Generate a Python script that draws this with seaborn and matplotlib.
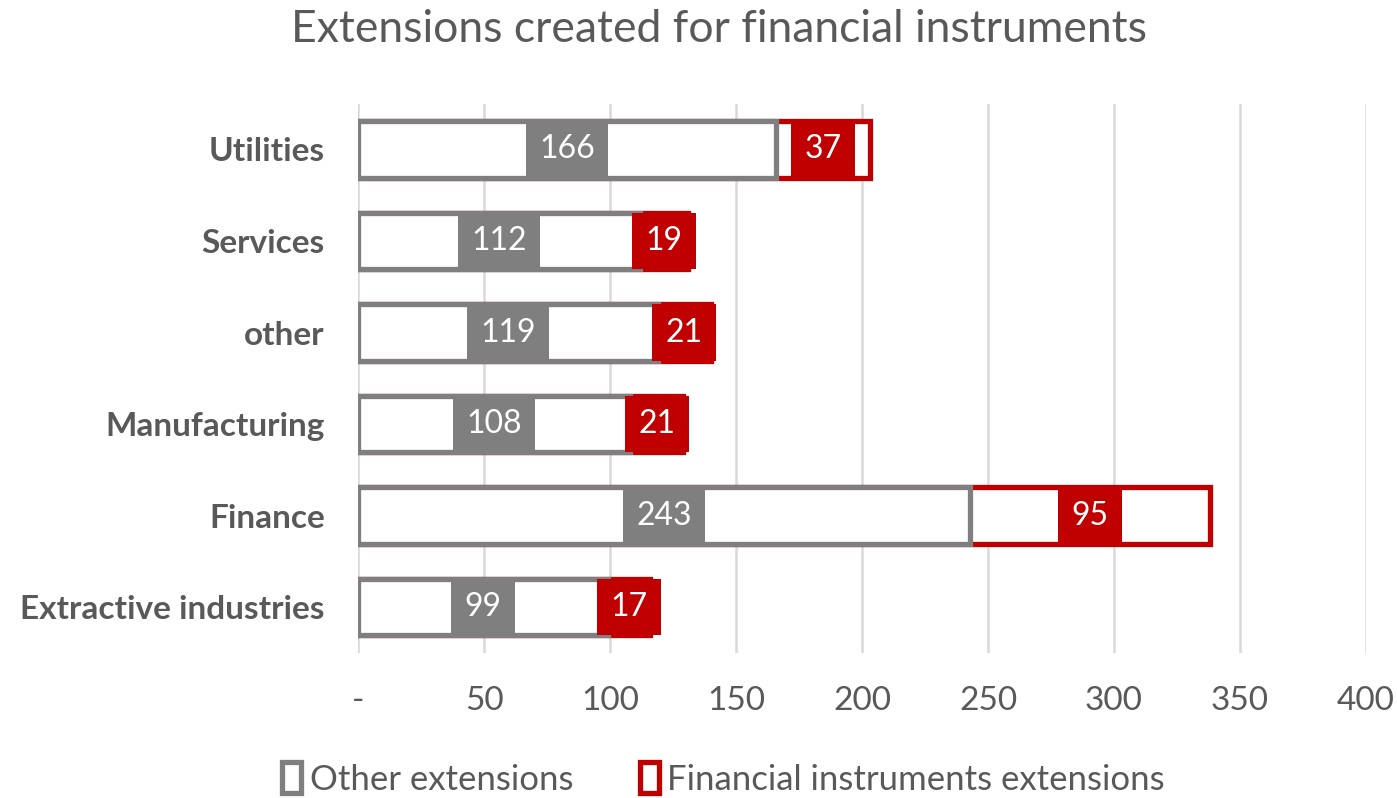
import matplotlib
matplotlib.use('Agg')
import matplotlib.pyplot as plt
import seaborn as sns
import pandas as pd
from matplotlib.patches import Patch

categories = ["Utilities", "Services", "other", "Manufacturing", "Finance", "Extractive industries"]
other_ext = [166, 112, 119, 108, 243, 99]
fin_ext = [37, 19, 21, 21, 95, 17]
tick_values = [0, 50, 100, 150, 200, 250, 300, 350, 400]
tick_labels = ["-", "50", "100", "150", "200", "250", "300", "350", "400"]
series_names = ["Other extensions", "Financial instruments extensions"]
title = "Extensions created for financial instruments"

GREY = "#7f7f7f"
RED = "#c00000"
TXT = "#595959"

sns.set_theme(style="white")
plt.rcParams['font.family'] = ['Lato', 'DejaVu Sans']

df = pd.DataFrame({"category": categories, "other": other_ext, "fin": fin_ext})
df["total"] = df["other"] + df["fin"]

fig = plt.figure(figsize=(13.97, 7.98), dpi=100)
ax = fig.add_axes([0.2563, 0.182, 0.7215, 0.688])

sns.barplot(data=df, y="category", x="total", orient="h", color="white", saturation=1,
            edgecolor=RED, linewidth=3.8, width=0.62, errorbar=None, ax=ax, zorder=2)
sns.barplot(data=df, y="category", x="other", orient="h", color="white", saturation=1,
            edgecolor=GREY, linewidth=3.8, width=0.62, errorbar=None, ax=ax, zorder=3)

FS = 23
for i, row in df.iterrows():
    ax.text(row["other"] / 2, i, str(row["other"]), ha="center", va="center", color="white",
            fontsize=FS, zorder=6,
            bbox=dict(boxstyle="square,pad=0.42", fc=GREY, ec="none"))
    ax.text(row["other"] + row["fin"] / 2, i, str(row["fin"]), ha="center", va="center", color="white",
            fontsize=FS, zorder=6,
            bbox=dict(boxstyle="square,pad=0.42", fc=RED, ec="none"))

ax.set_xlim(0, 400)
ax.set_xticks(tick_values)
ax.set_xticklabels(tick_labels)
ax.set_xlabel("")
ax.set_ylabel("")
ax.set_axisbelow(True)
ax.grid(axis="x", color="#d9d9d9", linewidth=1.8, zorder=0)
ax.grid(axis="y", visible=False)
for s in ax.spines.values():
    s.set_visible(False)
ax.tick_params(axis="x", length=0, pad=24, labelsize=24, colors=TXT)
ax.tick_params(axis="y", length=0, pad=24, labelsize=24, colors=TXT)
for lab in ax.get_yticklabels():
    lab.set_fontweight("bold")

fig.text(0.515, 0.963, title, ha="center", va="center", fontsize=32, color=TXT)

handles = [Patch(facecolor="white", edgecolor=GREY, linewidth=3.8, label=series_names[0]),
           Patch(facecolor="white", edgecolor=RED, linewidth=3.8, label=series_names[1])]
leg = fig.legend(handles=handles, loc="center", bbox_to_anchor=(0.518, 0.024), ncol=2,
                 frameon=False, fontsize=25, handlelength=0.55, handleheight=1.0,
                 handletextpad=0.25, columnspacing=1.9, borderpad=0)
for t in leg.get_texts():
    t.set_color(TXT)

fig.savefig("out.png", dpi=100)
